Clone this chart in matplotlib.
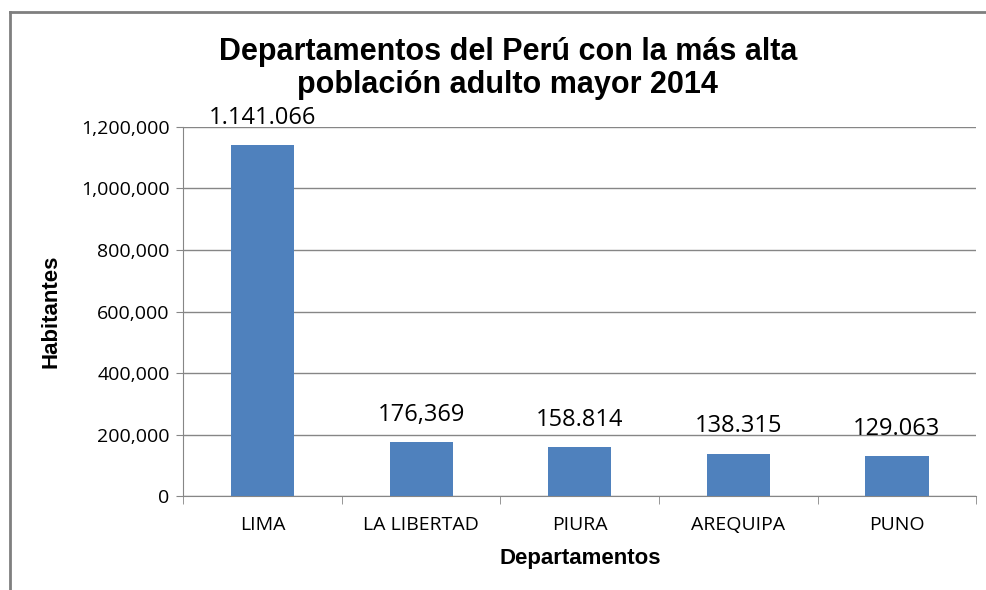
import numpy as np
import matplotlib
matplotlib.use("Agg")
import matplotlib.pyplot as plt
from matplotlib.lines import Line2D
from matplotlib.ticker import FuncFormatter

departamentos = ["LIMA", "LA LIBERTAD", "PIURA", "AREQUIPA", "PUNO"]
habitantes = [1141066, 176369, 158814, 138315, 129063]
etiquetas = ["1.141.066", "176,369", "158.814", "138.315", "129.063"]
yticks = [0, 200000, 400000, 600000, 800000, 1000000, 1200000]

fig = plt.figure(figsize=(9.86, 5.9), dpi=100)
ax = fig.add_axes([0.186, 0.159, 0.804, 0.626])

x = np.arange(len(departamentos))
bars = ax.bar(x, habitantes, width=0.4, color="#4F81BD", zorder=3)

for b, lab in zip(bars, etiquetas):
    ax.annotate(lab, (b.get_x() + b.get_width() / 2, b.get_height()),
                xytext=(0, 11), textcoords="offset points", ha="center", va="bottom",
                fontsize=17, family="Open Sans")

ax.set_xlim(-0.5, len(departamentos) - 0.5)
ax.set_ylim(0, 1200000)
ax.set_yticks(yticks)
ax.yaxis.set_major_formatter(FuncFormatter(lambda v, p: f"{int(v):,}"))
ax.set_xticks(x)
ax.set_xticklabels(departamentos, family="Open Sans", fontsize=14)
ax.set_xticks(np.arange(-0.5, len(departamentos)), minor=True)
ax.tick_params(axis="x", which="major", length=0, pad=14)
ax.tick_params(axis="x", which="minor", length=6, color="#868686")
ax.tick_params(axis="y", length=5, color="#868686", labelsize=14, pad=5)
for t in ax.get_yticklabels():
    t.set_family("Open Sans")

ax.grid(axis="y", color="#868686", linewidth=1, zorder=0)
for s in ["top", "right"]:
    ax.spines[s].set_visible(False)
for s in ["left", "bottom"]:
    ax.spines[s].set_color("#868686")

ax.set_ylabel("Habitantes", fontsize=16, fontweight="bold", family="Liberation Sans", labelpad=14)
ax.set_xlabel("Departamentos", fontsize=16, fontweight="bold", family="Liberation Sans", labelpad=10)

fig.text(0.515, 0.884, "Departamentos del Perú con la más alta\npoblación adulto mayor 2014",
         ha="center", va="center", fontsize=22, fontweight="bold", family="Liberation Sans",
         linespacing=1.15)

# chart frame (left and top edges visible)
fig.add_artist(Line2D([0.010, 0.010], [0.0, 0.98], color="#7f7f7f", linewidth=2, transform=fig.transFigure))
fig.add_artist(Line2D([0.010, 1.0], [0.98, 0.98], color="#7f7f7f", linewidth=2, transform=fig.transFigure))

fig.savefig("out.png", dpi=100)
